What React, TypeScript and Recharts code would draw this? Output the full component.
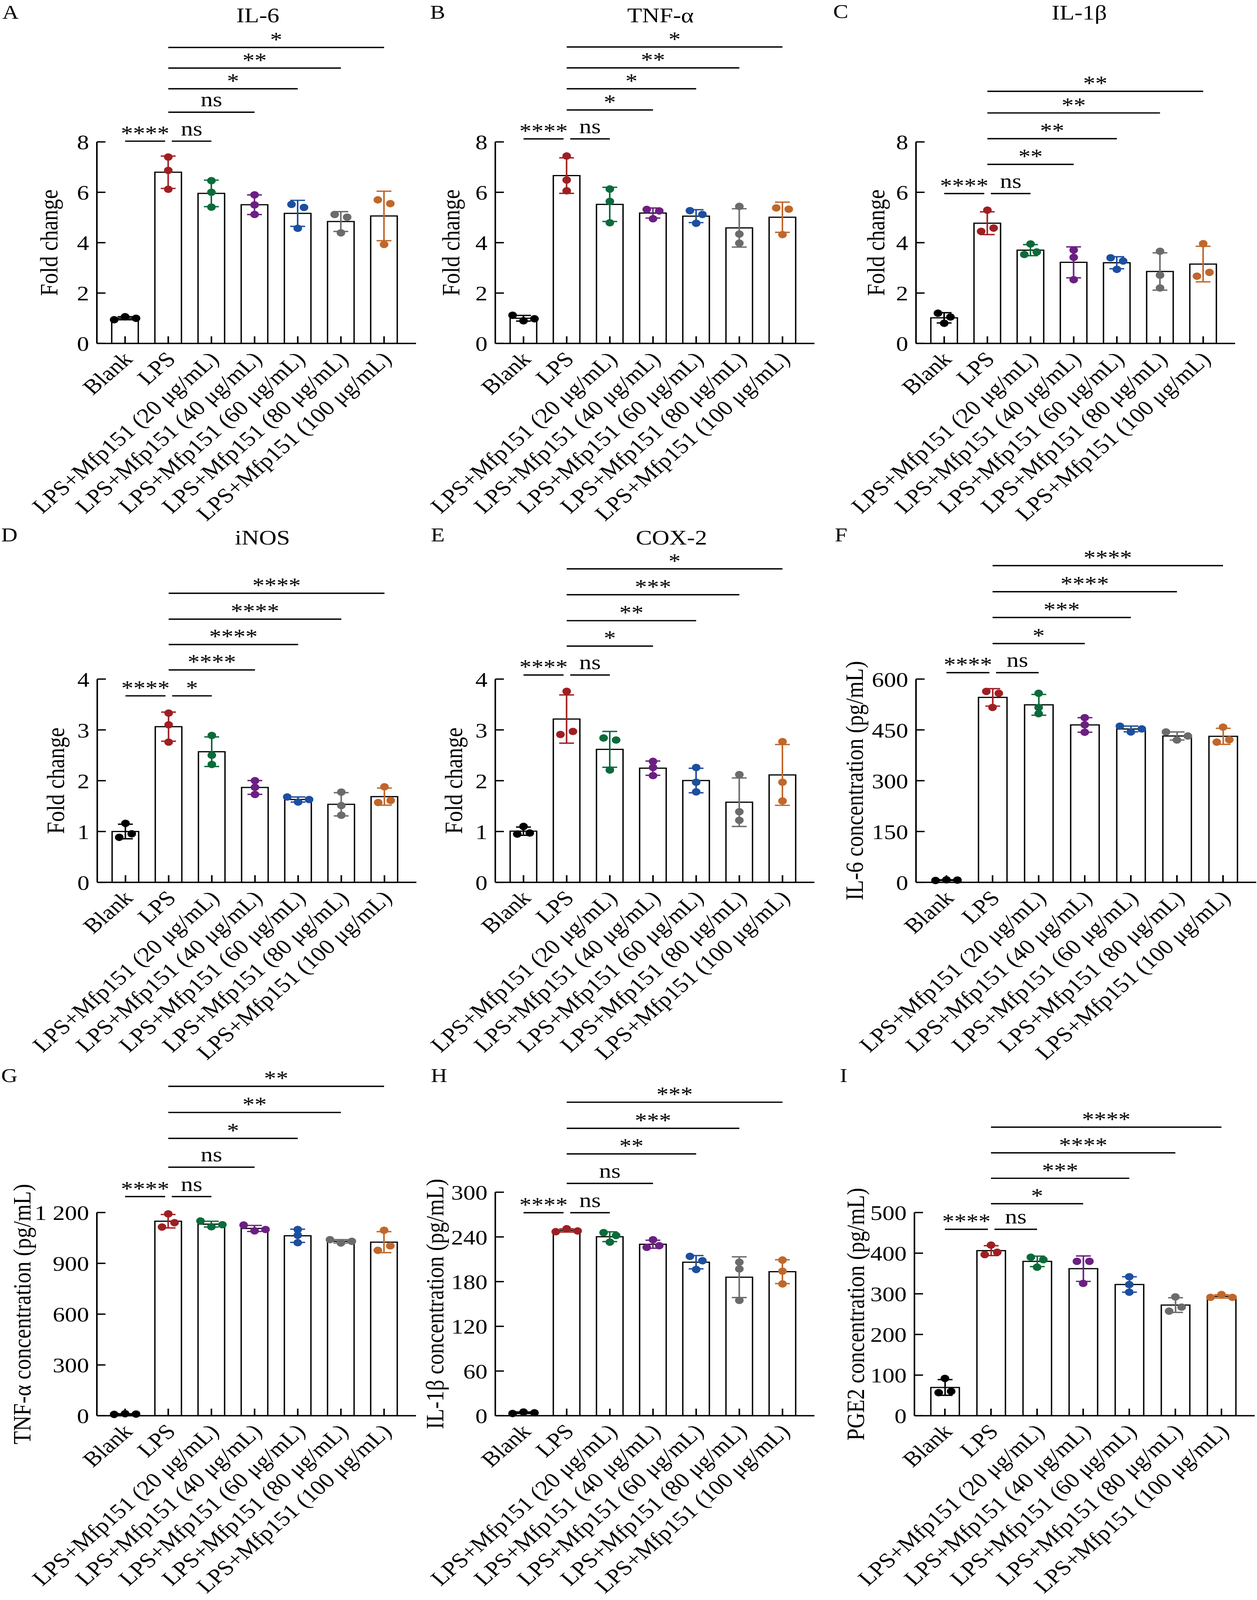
import React from 'react';
import { ComposedChart, Bar, Scatter, XAxis, YAxis, ReferenceLine } from 'recharts';

const FONT = '"Liberation Serif", "Times New Roman", Times, serif';
const FS = 62;

// The photographed area is 4096 px tall; the 4724 px layout is fitted into it vertically.
const PAGE_W = 3218;
const PAGE_H = 4724;
const SHOT_H = 4096;

// ---------- categories / colours ----------
const categories = [
  'Blank',
  'LPS',
  'LPS+Mfp151 (20 μg/mL)',
  'LPS+Mfp151 (40 μg/mL)',
  'LPS+Mfp151 (60 μg/mL)',
  'LPS+Mfp151 (80 μg/mL)',
  'LPS+Mfp151 (100 μg/mL)',
];
const groupColors = ['#000000', '#9E1F23', '#0B6B3A', '#6C1F82', '#1D4F9F', '#6B6B6B', '#C0672A'];

// ---------- replicate values (3 per group) ----------
const il6FoldValues = [
  [0.94, 1.06, 1.0],
  [7.4, 6.87, 6.12],
  [6.46, 6.0, 5.41],
  [5.9, 5.5, 5.12],
  [5.52, 5.4, 4.57],
  [5.12, 5.01, 4.39],
  [5.7, 5.55, 3.93],
];
const tnfFoldValues = [
  [1.12, 0.9, 0.98],
  [7.44, 6.49, 6.06],
  [6.13, 5.64, 4.79],
  [5.32, 5.26, 4.95],
  [5.27, 5.12, 4.77],
  [5.44, 4.34, 3.98],
  [5.38, 5.33, 4.32],
];
const il1bFoldValues = [
  [1.2, 0.8, 1.05],
  [5.29, 4.45, 4.58],
  [3.95, 3.53, 3.63],
  [3.71, 3.42, 2.53],
  [3.4, 3.27, 2.94],
  [3.66, 2.71, 2.2],
  [3.96, 2.67, 2.82],
];
const inosFoldValues = [
  [1.16, 0.885, 0.955],
  [3.33, 3.1, 2.76],
  [2.89, 2.5, 2.32],
  [2.0, 1.87, 1.73],
  [1.68, 1.58, 1.63],
  [1.775, 1.51, 1.32],
  [1.88, 1.57, 1.61],
];
const cox2FoldValues = [
  [1.1, 0.95, 0.97],
  [3.76, 2.91, 2.97],
  [2.84, 2.8, 2.21],
  [2.38, 2.26, 2.1],
  [2.26, 1.97, 1.78],
  [2.12, 1.39, 1.22],
  [2.77, 1.97, 1.6],
];
const il6ConcValues = [
  [5.5, 7.5, 6.5],
  [563.5, 558, 516.4],
  [558, 516, 498],
  [486, 465, 443],
  [461, 444, 453],
  [444, 420, 432],
  [458, 414, 421],
];
const tnfConcValues = [
  [8, 12, 10],
  [1114, 1192, 1140],
  [1150, 1116, 1128],
  [1126, 1092, 1100],
  [1100, 1066, 1022],
  [1040, 1020, 1030],
  [1095, 977, 1003],
];
const il1bConcValues = [
  [3, 5, 4],
  [247, 251, 248],
  [245.8, 233, 242],
  [236.2, 226, 228.2],
  [213.9, 208, 196.3],
  [206, 197, 154.8],
  [209, 194, 177],
];
const pge2ConcValues = [
  [56.7, 91.8, 60.2],
  [396.5, 419.9, 402.3],
  [390, 365.5, 384],
  [380, 325.7, 380],
  [342, 322.8, 304],
  [257.3, 292.4, 267.3],
  [291.2, 298.2, 291.2],
];

// ---------- y ticks ----------
const ticksFold8 = [0, 2, 4, 6, 8];
const ticksFold4 = [0, 1, 2, 3, 4];
const ticksIl6Conc = [0, 150, 300, 450, 600];
const ticksTnfConc = [0, 300, 600, 900, 1200];
const ticksIl1bConc = [0, 60, 120, 180, 240, 300];
const ticksPge2Conc = [0, 100, 200, 300, 400, 500];

// ---------- significance comparisons ----------
const comparisons: [string, string][] = [
  ['Blank', 'LPS'],
  ['LPS', categories[2]],
  ['LPS', categories[3]],
  ['LPS', categories[4]],
  ['LPS', categories[5]],
  ['LPS', categories[6]],
];
const sigA = ['****', 'ns', 'ns', '*', '**', '*'];
const sigLevelA = [8.03, 8.03, 9.18, 10.11, 10.93, 11.75];
const sigB = ['****', 'ns', '*', '*', '**', '*'];
const sigLevelB = [8.12, 8.12, 9.27, 10.11, 10.94, 11.77];
const sigC = ['****', 'ns', '**', '**', '**', '**'];
const sigLevelC = [5.95, 5.95, 7.11, 8.13, 9.15, 10.01];
const sigD = ['****', '*', '****', '****', '****', '****'];
const sigLevelD = [3.67, 3.67, 4.18, 4.68, 5.18, 5.69];
const sigE = ['****', 'ns', '*', '**', '***', '*'];
const sigLevelE = [4.08, 4.08, 4.65, 5.15, 5.66, 6.17];
const sigF = ['****', 'ns', '*', '***', '****', '****'];
const sigLevelF = [619, 619, 705, 782, 858, 935];
const sigG = ['****', 'ns', 'ns', '*', '**', '**'];
const sigLevelG = [1294, 1294, 1468, 1638, 1791, 1945];
const sigH = ['****', 'ns', 'ns', '**', '***', '***'];
const sigLevelH = [272.5, 272.5, 311.8, 351.4, 385.7, 420.8];
const sigI = ['****', 'ns', '*', '***', '****', '****'];
const sigLevelI = [458.7, 458.7, 521.8, 584.3, 646.8, 710];

// ---------- layout ----------
const colLefts = [0, 1070, 2140];

type Panel = {
  id: string;
  values: number[][];
  sig: string[];
  sigLevel: number[];
  yMax: number;
  yTicks: number[];
  col: number;
  rowTop: number;
  axisX: number;
  y0: number;
  plotH: number;
  wide: boolean;
  yLabel: string;
  yLabelX: number;
  title?: string;
  titleX?: number;
  titleY?: number;
  letterX: number;
  letterY: number;
};

const panels: Panel[] = [
  { id: 'A', values: il6FoldValues, sig: sigA, sigLevel: sigLevelA, yMax: 8, yTicks: ticksFold8, col: 0, rowTop: 0, axisX: 248, y0: 1014, plotH: 595, wide: false, yLabel: 'Fold change', yLabelX: 147, title: 'IL-6', titleX: 660, titleY: 66, letterX: 6, letterY: 55 },
  { id: 'B', values: tnfFoldValues, sig: sigB, sigLevel: sigLevelB, yMax: 8, yTicks: ticksFold8, col: 1, rowTop: 0, axisX: 1268, y0: 1014, plotH: 595, wide: false, yLabel: 'Fold change', yLabelX: 1176, title: 'TNF-α', titleX: 1691, titleY: 66, letterX: 1101, letterY: 55 },
  { id: 'C', values: il1bFoldValues, sig: sigC, sigLevel: sigLevelC, yMax: 8, yTicks: ticksFold8, col: 2, rowTop: 0, axisX: 2345, y0: 1014, plotH: 595, wide: false, yLabel: 'Fold change', yLabelX: 2264, title: 'IL-1β', titleX: 2763, titleY: 58, letterX: 2133, letterY: 53 },
  { id: 'D', values: inosFoldValues, sig: sigD, sigLevel: sigLevelD, yMax: 4, yTicks: ticksFold4, col: 0, rowTop: 1560, axisX: 249, y0: 2605, plotH: 600, wide: false, yLabel: 'Fold change', yLabelX: 164, title: 'iNOS', titleX: 672, titleY: 1608, letterX: 3, letterY: 1599 },
  { id: 'E', values: cox2FoldValues, sig: sigE, sigLevel: sigLevelE, yMax: 4, yTicks: ticksFold4, col: 1, rowTop: 1560, axisX: 1268, y0: 2605, plotH: 600, wide: false, yLabel: 'Fold change', yLabelX: 1183, title: 'COX-2', titleX: 1719, titleY: 1608, letterX: 1103, letterY: 1599 },
  { id: 'F', values: il6ConcValues, sig: sigF, sigLevel: sigLevelF, yMax: 600, yTicks: ticksIl6Conc, col: 2, rowTop: 1560, axisX: 2345, y0: 2605, plotH: 600, wide: true, yLabel: 'IL-6 concentration (pg/mL)', yLabelX: 2209, letterX: 2137, letterY: 1599 },
  { id: 'G', values: tnfConcValues, sig: sigG, sigLevel: sigLevelG, yMax: 1200, yTicks: ticksTnfConc, col: 0, rowTop: 3120, axisX: 248, y0: 4180, plotH: 600, wide: false, yLabel: 'TNF-α concentration (pg/mL)', yLabelX: 78, letterX: 3, letterY: 3195 },
  { id: 'H', values: il1bConcValues, sig: sigH, sigLevel: sigLevelH, yMax: 300, yTicks: ticksIl1bConc, col: 1, rowTop: 3120, axisX: 1268, y0: 4180, plotH: 660, wide: false, yLabel: 'IL-1β concentration (pg/mL)', yLabelX: 1135, letterX: 1103, letterY: 3195 },
  { id: 'I', values: pge2ConcValues, sig: sigI, sigLevel: sigLevelI, yMax: 500, yTicks: ticksPge2Conc, col: 2, rowTop: 3120, axisX: 2341, y0: 4180, plotH: 600, wide: true, yLabel: 'PGE2 concentration (pg/mL)', yLabelX: 2212, letterX: 2150, letterY: 3195 },
];

// ---------- data prep: mean, SD and beeswarm-like offsets ----------
function buildRows(values: number[][], yMax: number, plotH: number) {
  const ppu = plotH / yMax;
  const thr = 15;
  return categories.map((name, i) => {
    const vals = values[i];
    const n = vals.length;
    const mean = vals.reduce((a, b) => a + b, 0) / n;
    const sd = Math.sqrt(vals.reduce((a, b) => a + (b - mean) * (b - mean), 0) / (n - 1));
    const order = vals.map((_, k) => k).sort((a, b) => vals[b] - vals[a]);
    const clusters: number[][] = [];
    let cur = [order[0]];
    for (let j = 1; j < order.length; j++) {
      const gap = (vals[order[j - 1]] - vals[order[j]]) * ppu;
      if (gap < thr) cur.push(order[j]);
      else {
        clusters.push(cur);
        cur = [order[j]];
      }
    }
    clusters.push(cur);
    const dx = new Array(n).fill(0);
    clusters.forEach((c) => {
      const m = c.length;
      if (m < 2) return;
      const step = m === 2 ? 32 : 28;
      const sorted = [...c].sort((a, b) => a - b);
      sorted.forEach((k, idx) => {
        dx[k] = (idx - (m - 1) / 2) * step;
      });
    });
    return { name, color: groupColors[i], mean, sd, v0: vals[0], v1: vals[1], v2: vals[2], dx };
  });
}

const fmtTick = (v: number) => String(v).replace(/\B(?=(\d{3})+(?!\d))/g, ' ');

// ---------- custom renderers ----------
const XTick = (props: any) => {
  const { x, y, payload } = props;
  const ax = x + 22;
  const ay = y + 50;
  return (
    <g>
      <line x1={x} x2={x} y1={y} y2={y - 21} stroke="#000" strokeWidth={4} />
      <text x={ax} y={ay} textAnchor="end" transform={`rotate(-45 ${ax} ${ay})`} fontFamily={FONT} fontSize={FS} fill="#000">
        {payload.value}
      </text>
    </g>
  );
};

const YTick = (props: any) => {
  const { x, y, payload } = props;
  return (
    <g>
      <line x1={x} x2={x + 22} y1={y} y2={y} stroke="#000" strokeWidth={4} />
      <text x={x - 20} y={y + 22} textAnchor="end" fontFamily={FONT} fontSize={FS} fill="#000">
        {fmtTick(payload.value)}
      </text>
    </g>
  );
};

const BarWithError = (props: any) => {
  const { x, y, width, height, payload } = props;
  if (width == null || height == null) return null;
  const cx = x + width / 2;
  const ppu = payload.mean > 0 ? height / payload.mean : 0;
  const top = y - payload.sd * ppu;
  const bot = y + payload.sd * ppu;
  const cap = 19;
  return (
    <g>
      <rect x={x} y={y} width={width} height={height} fill="none" stroke="#000" strokeWidth={3.5} />
      <line x1={cx} x2={cx} y1={top} y2={bot} stroke={payload.color} strokeWidth={4} />
      <line x1={cx - cap} x2={cx + cap} y1={top} y2={top} stroke={payload.color} strokeWidth={4} />
      <line x1={cx - cap} x2={cx + cap} y1={bot} y2={bot} stroke={payload.color} strokeWidth={4} />
    </g>
  );
};

const makeDot = (k: number) => (props: any) => {
  const { cx, cy, payload } = props;
  if (cx == null || cy == null) return null;
  return <circle cx={cx + payload.dx[k]} cy={cy} r={11} fill={payload.color} />;
};

const makeBracket = (label: string, trimStart: number, trimEnd: number) => (props: any) => {
  const x1 = props.x1 + trimStart;
  const x2 = props.x2 - trimEnd;
  const y = props.y1;
  const star = label.indexOf('*') >= 0;
  return (
    <g>
      <line x1={x1} x2={x2} y1={y} y2={y} stroke="#000" strokeWidth={4} />
      <text x={(x1 + x2) / 2} y={star ? y - 3 : y - 17} textAnchor="middle" fontFamily={FONT} fontSize={FS} fill="#000">
        {label}
      </text>
    </g>
  );
};

function PanelChart({ p }: { p: Panel }) {
  const colLeft = colLefts[p.col];
  const rows = buildRows(p.values, p.yMax, p.plotH);
  const plotW = p.wide ? 871 : 817;
  const padL = p.wide ? 19 : 17;
  const padR = p.wide ? 26 : 26.5;
  const barW = p.wide ? 73 : 68;
  const yw = p.axisX - colLeft;
  const top = p.y0 - p.plotH - p.rowTop;
  const xh = 535;
  const width = yw + plotW;
  const height = top + p.plotH + xh;
  return (
    <div style={{ position: 'absolute', left: colLeft, top: p.rowTop }}>
      <ComposedChart width={width} height={height} data={rows} margin={{ top, right: 0, bottom: 0, left: 0 }}>
        <XAxis
          dataKey="name"
          type="category"
          interval={0}
          height={xh}
          padding={{ left: padL, right: padR }}
          tickSize={0}
          tickMargin={0}
          tickLine={false}
          axisLine={{ stroke: '#000', strokeWidth: 4 }}
          tick={(tp: any) => <XTick {...tp} />}
        />
        <YAxis
          type="number"
          domain={[0, p.yMax]}
          ticks={p.yTicks}
          interval={0}
          width={yw}
          tickSize={0}
          tickMargin={0}
          tickLine={false}
          axisLine={{ stroke: '#000', strokeWidth: 4 }}
          tick={(tp: any) => <YTick {...tp} />}
        />
        <Bar dataKey="mean" barSize={barW} shape={(bp: any) => <BarWithError {...bp} />} isAnimationActive={false} />
        {[0, 1, 2].map((k) => (
          <Scatter key={'s' + k} dataKey={'v' + k} shape={makeDot(k)} isAnimationActive={false} />
        ))}
        {comparisons.map(([from, to], i) => (
          <ReferenceLine
            key={'r' + i}
            segment={[
              { x: from, y: p.sigLevel[i] },
              { x: to, y: p.sigLevel[i] },
            ]}
            ifOverflow="visible"
            stroke="#000"
            shape={makeBracket(p.sig[i], i === 1 ? 9 : 0, i === 0 ? 8 : 0)}
          />
        ))}
      </ComposedChart>
    </div>
  );
}

export default function App() {
  const sy = SHOT_H / PAGE_H;
  return (
    <div style={{ position: 'relative', width: PAGE_W, height: SHOT_H, background: '#fff', overflow: 'hidden' }}>
      <style>{'body{margin:0;background:#fff} svg{overflow:visible}'}</style>
      <div
        style={{
          position: 'absolute',
          left: 0,
          top: 0,
          width: PAGE_W,
          height: PAGE_H,
          transform: `scale(1, ${sy})`,
          transformOrigin: '0 0',
        }}
      >
        <svg width={PAGE_W} height={PAGE_H} style={{ position: 'absolute', left: 0, top: 0 }}>
          {panels.map((p) => (
            <g key={'t' + p.id}>
              <text x={p.letterX} y={p.letterY} fontFamily={FONT} fontSize={58} fill="#000">
                {p.id}
              </text>
              {p.title ? (
                <text x={p.titleX} y={p.titleY} textAnchor="middle" fontFamily={FONT} fontSize={FS} fill="#000">
                  {p.title}
                </text>
              ) : null}
              <text
                x={p.yLabelX}
                y={p.y0 - p.plotH / 2}
                textAnchor="middle"
                transform={`rotate(-90 ${p.yLabelX} ${p.y0 - p.plotH / 2})`}
                fontFamily={FONT}
                fontSize={64}
                fill="#000"
              >
                {p.yLabel}
              </text>
            </g>
          ))}
        </svg>
        {panels.map((p) => (
          <PanelChart key={p.id} p={p} />
        ))}
      </div>
    </div>
  );
}
